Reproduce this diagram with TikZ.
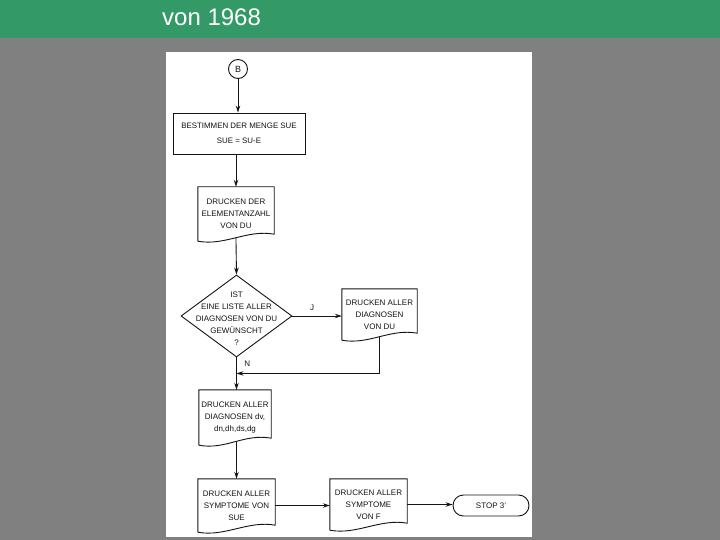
\documentclass[tikz,border=0pt]{standalone}
\usepackage{fontspec}
\setmainfont{Liberation Sans}
\usetikzlibrary{positioning,calc,arrows.meta,shapes.geometric,shapes.misc}
\definecolor{slidegreen}{RGB}{51,153,102}
\definecolor{slidegray}{RGB}{128,128,128}
\definecolor{ink}{RGB}{20,20,20}
\newcommand{\chartfont}{\fontsize{8}{12}\selectfont}
% outline of a document symbol round a named node
\newcommand{\docframe}[1]{%
  \draw[ln] (#1.south west) -- (#1.north west) -- (#1.north east)
    -- ($(#1.south east)+(0,-7)$) .. controls +(-27,-5) and +(27,5) .. (#1.south west);}
\tikzset{>={Stealth[length=7pt,width=4.5pt]},
ln/.style={draw=ink,line width=0.9pt},
flow/.style={ln,->},
el/.style={font=\chartfont,text=ink},
proc/.style={rectangle,ln,minimum width=132pt,minimum height=41pt,inner sep=0pt,
  align=center,text=ink,font=\fontsize{7.9}{15}\selectfont},
doc/.style={rectangle,inner sep=0pt,align=center,text=ink,font=\chartfont},
dec/.style={diamond,ln,inner sep=0pt,minimum width=111pt,minimum height=82pt},
term/.style={rounded rectangle,ln,minimum width=76pt,minimum height=21pt,inner sep=0pt,
  text=ink,font=\chartfont},
conn/.style={circle,ln,minimum size=19pt,inner sep=0pt,text=ink,font=\fontsize{9}{9}\selectfont},
}
\begin{document}
\begin{tikzpicture}[x=1pt,y=-1pt]

	\fill[slidegray] (0,0) rectangle (720,540);
	\fill[slidegreen] (0,0) rectangle (720,38);
	\node[anchor=base west,inner sep=0pt,text=white,font=\fontsize{24}{24}\selectfont] (title) at (162,26) {von 1968};
	\fill[white] (166,52) rectangle (532,537);

	\node[conn] (B) at (238,69) {B};
	\node[proc] (setsue) at (239,133.5) {BESTIMMEN DER MENGE SUE\\SUE = SU-E};
	\node[doc,minimum width=76pt,minimum height=54pt] (cntdu) at (236,214) {DRUCKEN DER\\ELEMENTANZAHL\\VON DU};
	\node[dec,label={[el,align=center,yshift=-3pt]center:IST\\EINE LISTE ALLER\\DIAGNOSEN VON DU\\GEWÜNSCHT\\?}] (ask) at (236.5,316) {};
	\node[doc,minimum width=75pt,minimum height=51pt] (alldu) at (379.5,314.5) {DRUCKEN ALLER\\DIAGNOSEN\\VON DU};
	\node[doc,minimum width=72pt,minimum height=55pt] (alldiag) at (235,417.5) {DRUCKEN ALLER\\DIAGNOSEN dv,\\dn,dh,ds,dg};
	\node[doc,minimum width=77pt,minimum height=53pt] (symsue) at (236.5,505.5) {DRUCKEN ALLER\\SYMPTOME VON\\SUE};
	\node[doc,minimum width=77pt,minimum height=51pt] (symf) at (368.5,504.5) {DRUCKEN ALLER\\SYMPTOME\\VON F};
	\node[term] (stop) at (491,505.5) {STOP 3'};
	\coordinate (merge) at ($(ask.south)+(0,16)$);

	\docframe{cntdu}
	\docframe{alldu}
	\docframe{alldiag}
	\docframe{symsue}
	\docframe{symf}

	\draw[flow] (B) -- (B |- setsue.north);
	\draw[flow] (cntdu.north |- setsue.south) -- (cntdu.north);
	\draw[flow,shorten <=-3.5pt] (cntdu.south) -- (ask.north);
	\draw[flow] (ask.east) -- node[el,pos=0.4,above=2pt] {J} (ask.east -| alldu.west);
	\draw[flow,shorten <=-3.5pt] (alldu.south) -- (alldu.south |- merge) -- (merge);
	\draw[flow] (ask.south) -- node[el,pos=0.18,right=4pt] {N} (ask.south |- alldiag.north);
	\draw[flow,shorten <=-3.5pt] (symsue.north |- alldiag.south) -- (symsue.north);
	\draw[flow] (symsue.east) -- (symsue.east -| symf.west);
	\draw[flow] (symf.east) -- (symf.east -| stop.west);
\end{tikzpicture}
\end{document}
